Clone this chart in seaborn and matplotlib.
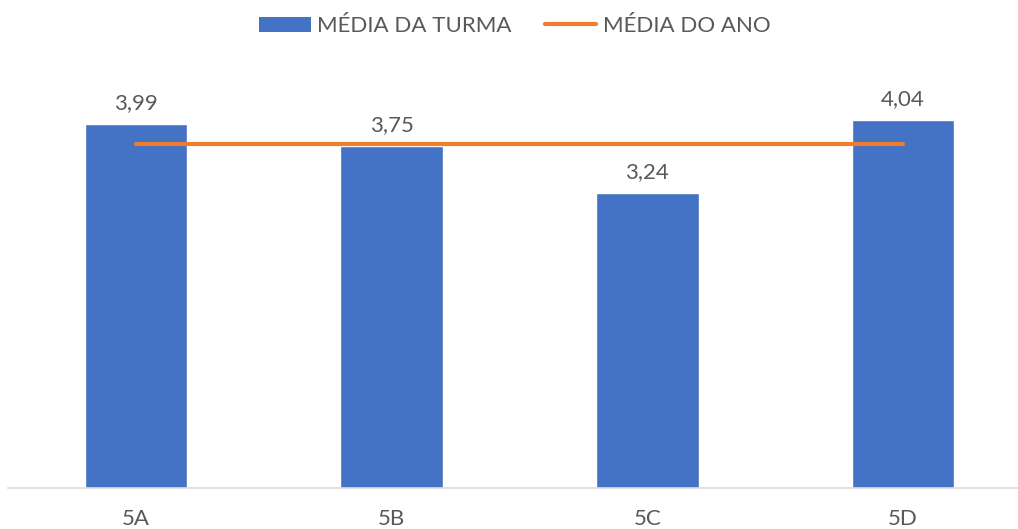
"""
plot.py

Média da turma vs média do ano (bar + line chart).
"""

import pandas as pd
import matplotlib
matplotlib.use("Agg")
import matplotlib.pyplot as plt
import seaborn as sns

from matplotlib.patches import Patch
from matplotlib.lines import Line2D

############################################################
# Data
############################################################

turmas = ["5A", "5B", "5C", "5D"]

media_turma = [3.99, 3.75, 3.24, 4.04]

media_ano = [3.78, 3.78, 3.78, 3.78]

BLUE = "#4472C4"
ORANGE = "#ED7D31"
TEXT = "#595959"

############################################################
# Plot
############################################################

sns.set_theme(style="white")
plt.rcParams["font.family"] = ["Lato", "DejaVu Sans"]

df = pd.DataFrame({
    "turma": turmas,
    "turma_media": media_turma,
    "ano_media": media_ano,
})

W, H = 1018, 529
fig = plt.figure(figsize=(W / 100, H / 100), dpi=100)

# axes in pixel coords: x from 8 to 1031, y from 488 (baseline) up to 78
left, right = 8, 1031
bottom, top = 488, 78
ax = fig.add_axes([left / W, 1 - bottom / H, (right - left) / W, (bottom - top) / H])

sns.barplot(
    data=df,
    x="turma",
    y="turma_media",
    color=BLUE,
    width=0.4,
    saturation=1,
    ax=ax,
)

sns.lineplot(
    data=df,
    x="turma",
    y="ano_media",
    color=ORANGE,
    linewidth=3.0,
    ax=ax,
    solid_capstyle="round",
)

ax.set_ylim(0, 4.5)
ax.set_xlim(-0.5, 3.5)

for i, v in enumerate(media_turma):
    ax.annotate(
        f"{v:.2f}".replace(".", ","),
        (i, v),
        xytext=(0, 8),
        textcoords="offset points",
        ha="center",
        va="bottom",
        fontsize=16,
        color=TEXT,
    )

ax.set_xlabel("")
ax.set_ylabel("")
ax.set_yticks([])
ax.tick_params(axis="x", length=0, labelsize=16, labelcolor=TEXT, pad=15)

for s in ["top", "left", "right"]:
    ax.spines[s].set_visible(False)
ax.spines["bottom"].set_color("#D9D9D9")
ax.spines["bottom"].set_linewidth(1.2)

handles = [
    Patch(facecolor=BLUE, edgecolor="none", label="MÉDIA DA TURMA"),
    Line2D([0], [0], color=ORANGE, linewidth=3.0, solid_capstyle="round", label="MÉDIA DO ANO"),
]

fig.legend(
    handles=handles,
    loc="center",
    bbox_to_anchor=(515 / W, 1 - 26 / H),
    ncol=2,
    frameon=False,
    fontsize=16,
    labelcolor=TEXT,
    handlelength=2.3,
    handleheight=0.65,
    handletextpad=0.3,
    columnspacing=1.5,
)

fig.savefig("out.png", dpi=100)
plt.close(fig)
